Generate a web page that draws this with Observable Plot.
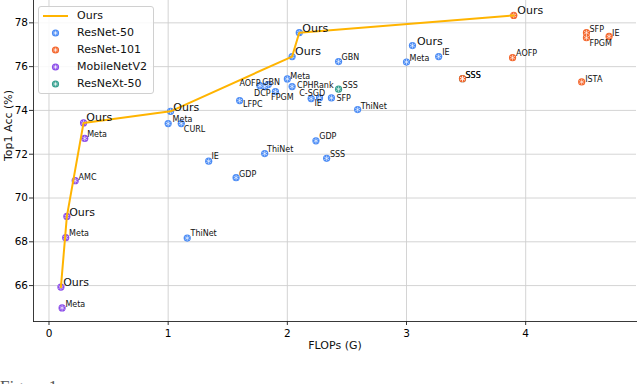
<!DOCTYPE html>
<html><head><meta charset="utf-8">
<script src="https://cdn.jsdelivr.net/npm/d3@7"></script>
<script src="https://cdn.jsdelivr.net/npm/@observablehq/plot@0.6"></script>
<style>
html,body{margin:0;padding:0;background:#fff;}
body{width:638px;height:384px;overflow:hidden;position:relative;font-family:"DejaVu Sans",sans-serif;}
#legend{position:absolute;left:38px;top:6px;width:116px;height:88px;box-sizing:border-box;border:1px solid #d0d0d0;border-radius:3px;background:rgba(255,255,255,0.85);}
.row{position:absolute;left:0;height:14px;display:flex;align-items:center;font-size:11px;color:#111;}
.row svg{width:36px;height:14px;margin-left:1px;}
.row span{margin-left:1px;}
#caption{position:absolute;left:0px;top:377px;font-family:"Liberation Serif",serif;font-size:17px;color:#555;}
</style></head><body>
<div id="chart"></div>
<div id="legend"></div>
<div id="caption">Figure 1:</div>
<script>
// ---- data ----
const seriesNames = ["ResNet-50", "ResNet-101", "MobileNetV2", "ResNeXt-50"];
const seriesColors = ["#4a8bf5", "#f4662c", "#8b4de9", "#35a08f"];

const r50Names = ["Ours","Meta","IE","GBN","Meta","CPHRank","C-SGD","IE","SFP","ThiNet","AOFP","DCP","GBN","FPGM","LFPC","Meta","CURL","IE","GDP","ThiNet","GDP","SSS","ThiNet","Ours","Ours","Ours"];
const r50Flops = [3.05,3.00,3.27,2.43,2.00,2.04,2.20,2.27,2.37,2.59,1.77,1.81,1.84,1.90,1.60,1.00,1.11,1.34,1.57,1.81,2.24,2.33,1.16,1.02,2.04,2.10];
const r50Acc   = [76.96,76.21,76.46,76.23,75.44,75.09,74.54,74.57,74.57,74.04,75.13,75.09,75.18,74.86,74.45,73.40,73.40,71.68,70.93,72.03,72.61,71.81,68.17,73.96,76.46,77.55];

const r101Names = ["Ours","SFP","FPGM","IE","AOFP","SSS","ISTA"];
const r101Flops = [3.90,4.51,4.51,4.70,3.89,3.47,4.47];
const r101Acc   = [78.34,77.55,77.32,77.38,76.41,75.45,75.30];

const mbNames = ["Ours","Meta","Ours","Meta","AMC","Ours","Meta"];
const mbFlops = [0.10,0.11,0.15,0.14,0.22,0.29,0.30];
const mbAcc   = [65.93,64.98,69.16,68.19,70.79,73.43,72.72];

const rxNames = ["SSS","SSS"];
const rxFlops = [2.43,3.47];
const rxAcc   = [74.97,75.45];

const oursFlops = [0.10,0.15,0.29,1.02,2.04,2.10,3.90];
const oursAcc   = [65.93,69.16,73.43,73.96,76.46,77.55,78.34];

const xTicks = [0,1,2,3,4];
const yTicks = [66,68,70,72,74,76,78];

// ---- label nudges (layout only, pixels) ----
const nudges = {
  "ResNet-50": [[4.5,-4],[3,-4],[3.5,-4.5],[3,-4],[3,-2.5],[5,-1],[-12,-5],[-5,5],[5,0],[3,-3.5],[-20.5,-2.3],[-10.6,7.3],[-6,-2.3],[-4.3,6],[3.4,4],[4.4,-3.7],[2.6,5.7],[2.7,-4.5],[3,-3.7],[2.4,-3.7],[3.3,-4],[3.3,-4],[3.3,-4.2],[2.7,-4],[3,-5],[3,-4.5]],
  "ResNet-101": [[3.5,-4.5],[3,-3.3],[3,5.7],[3,-3.4],[3.5,-4],[3,-3.5],[3.5,-2.3]],
  "MobileNetV2": [[2.3,-5],[3.3,-3.3],[2.3,-3.7],[3.4,-3.7],[3.4,-3.3],[2.7,-5.4],[2.4,-4]],
  "ResNeXt-50": [[4,-3.6],[3,-3.5]]
};

const build = (s, names, fl, ac) => names.map((n, i) => ({series: s, name: n, flops: fl[i], acc: ac[i], nudge: nudges[s][i]}));
// drawing order: ResNeXt first so the ResNet-101 SSS sits on top
const points = [
  ...build("ResNeXt-50", rxNames, rxFlops, rxAcc),
  ...build("ResNet-50", r50Names, r50Flops, r50Acc),
  ...build("MobileNetV2", mbNames, mbFlops, mbAcc),
  ...build("ResNet-101", r101Names, r101Flops, r101Acc)
];
const oursLine = oursFlops.map((f, i) => ({flops: f, acc: oursAcc[i]}));

const labelMarks = points.map(p => Plot.text([p], {
  x: "flops", y: "acc", text: "name", textAnchor: "start",
  dx: p.nudge[0], dy: p.nudge[1],
  fontSize: p.name === "Ours" ? 11 : 8, fill: "#111"
}));

const chart = Plot.plot({
  width: 638, height: 372,
  marginLeft: 33, marginRight: 2, marginTop: 0, marginBottom: 51,
  style: {fontFamily: "DejaVu Sans, sans-serif", fontSize: "10.5px", background: "transparent", overflow: "visible"},
  x: {domain: [-0.13, 4.93]},
  y: {domain: [64.36, 79.02]},
  color: {domain: seriesNames, range: seriesColors},
  marks: [
    Plot.gridX(xTicks, {stroke: "#cfcfcf", strokeOpacity: 1, strokeWidth: 0.9}),
    Plot.gridY(yTicks, {stroke: "#cfcfcf", strokeOpacity: 1, strokeWidth: 0.9}),
    Plot.axisX(xTicks, {tickSize: 4, tickPadding: 4.5, tickFormat: d => String(d), label: null, fontSize: 10.5, stroke: "#333"}),
    Plot.axisY(yTicks, {tickSize: 4, tickPadding: 1.5, tickFormat: d => String(d), label: null, fontSize: 10.5, stroke: "#333"}),
    Plot.frame({anchor: "left", stroke: "#222", strokeWidth: 0.9}),
    Plot.frame({anchor: "bottom", stroke: "#222", strokeWidth: 0.9}),
    Plot.dot(points, {x: "flops", y: "acc", fill: "series", r: 3.6, stroke: "none"}),
    Plot.dot(points, {x: "flops", y: "acc", symbol: "asterisk", r: 2.6, stroke: "white", strokeWidth: 0.7, strokeOpacity: 0.85}),
    Plot.line(oursLine, {x: "flops", y: "acc", stroke: "#ffb400", strokeWidth: 2}),
    ...labelMarks,
    Plot.text(["FLOPs (G)"], {frameAnchor: "bottom", dy: 27, fontSize: 11, fill: "#111"}),
    Plot.text(["Top1 Acc (%)"], {frameAnchor: "left", dx: -25, rotate: -90, fontSize: 11, fill: "#111"})
  ]
});
document.getElementById("chart").appendChild(chart);

// ---- legend ----
const legend = document.getElementById("legend");
const legendItems = [{label: "Ours", kind: "line", color: "#ffb400"}]
  .concat(seriesNames.map((s, i) => ({label: s, kind: "dot", color: seriesColors[i]})));
legendItems.forEach((it, i) => {
  const row = document.createElement("div");
  row.className = "row";
  row.style.top = (1.5 + i * 17) + "px";
  let sym;
  if (it.kind === "line") {
    sym = `<svg viewBox="0 0 36 14"><line x1="3" x2="28" y1="7" y2="7" stroke="${it.color}" stroke-width="2"/></svg>`;
  } else {
    sym = `<svg viewBox="0 0 36 14"><circle cx="15.5" cy="7" r="3.6" fill="${it.color}"/>` +
      `<g stroke="white" stroke-width="0.7" stroke-opacity="0.85"><line x1="13.2" x2="17.8" y1="7" y2="7"/><line x1="15.5" x2="15.5" y1="4.7" y2="9.3"/><line x1="13.9" x2="17.1" y1="5.4" y2="8.6"/><line x1="13.9" x2="17.1" y1="8.6" y2="5.4"/></g></svg>`;
  }
  row.innerHTML = sym + `<span>${it.label}</span>`;
  legend.appendChild(row);
});
</script>
</body></html>
